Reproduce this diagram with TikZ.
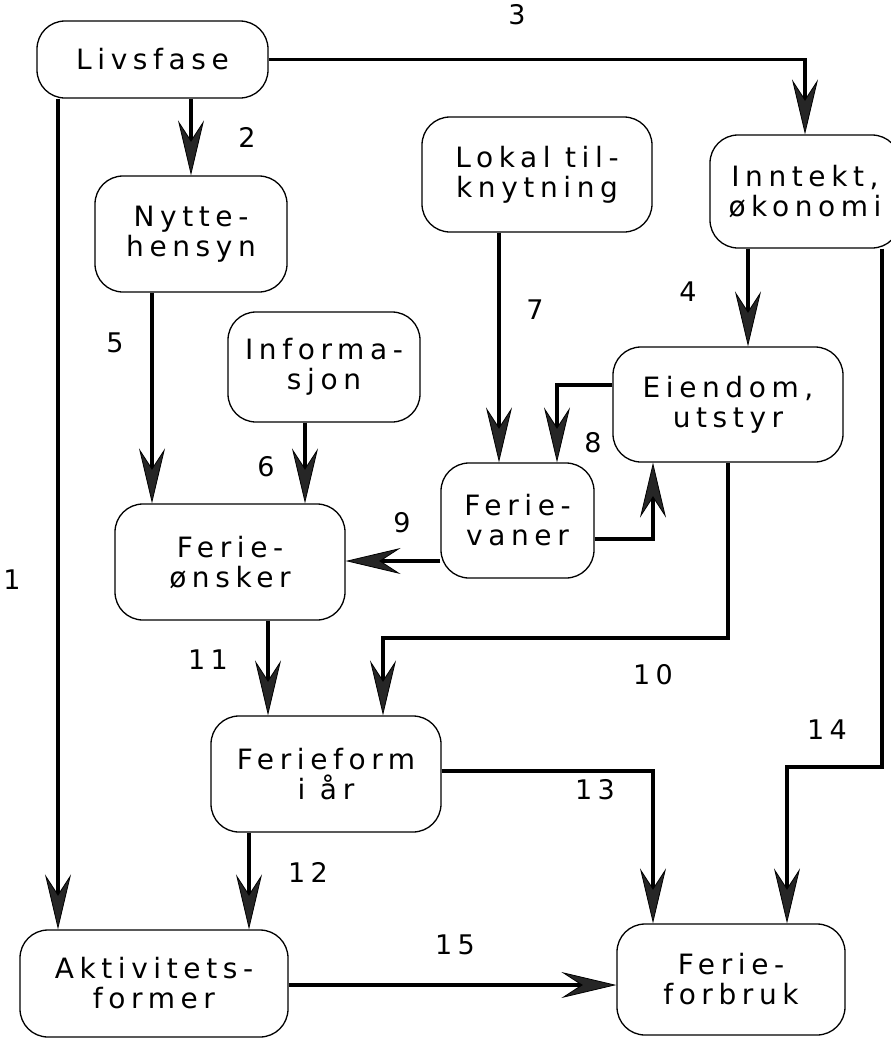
\documentclass[tikz,border=0pt]{standalone}
\usepackage{fontspec}
\newfontfamily\lab{DejaVu Sans}[LetterSpace=20]
\usetikzlibrary{arrows.meta,calc}
\begin{document}
\begin{tikzpicture}[x=1pt,y=-1pt,
  box/.style={draw, line width=1.3pt, rounded corners=28pt, align=center, inner sep=0pt,
              font=\lab\fontsize{28}{30}\selectfont},
  num/.style={font=\lab\fontsize{27}{30}\selectfont, inner sep=0pt},
  con/.style={line width=3.5pt,
              -{Stealth[length=55pt,width=26pt,inset=20pt,line width=0.8pt,fill=black!85,color=black]}}]
\useasboundingbox (0,0) rectangle (891,1042);
\fill[white] (0,0) rectangle (891,1042);
\clip (0,0) rectangle (891,1042);

% boxes
\node[box, minimum width=231pt, minimum height=77pt]  (liv) at (152.5,59.5) {Livsfase};
\node[box, minimum width=192pt, minimum height=116pt] (nyt) at (191,234)    {Nytte-\\hensyn};
\node[box, minimum width=230pt, minimum height=115pt] (lok) at (537,174.5)  {Lokal til-\\knytning};
\node[box, minimum width=190pt, minimum height=113pt] (inn) at (805,191.5)  {Inntekt,\\økonomi};
\node[box, minimum width=192pt, minimum height=110pt] (inf) at (324,367)    {Informa-\\sjon};
\node[box, minimum width=230pt, minimum height=115pt] (eie) at (728,404.5)  {Eiendom,\\utstyr};
\node[box, minimum width=153pt, minimum height=115pt] (fv)  at (517.5,520.5){Ferie-\\vaner};
\node[box, minimum width=230pt, minimum height=116pt] (fon) at (230,562)    {Ferie-\\ønsker};
\node[box, minimum width=230pt, minimum height=116pt] (ffo) at (326,774)    {Ferieform\\i år};
\node[box, minimum width=268pt, minimum height=107pt] (akt) at (154,983.5)  {Aktivitets-\\former};
\node[box, minimum width=228pt, minimum height=111pt] (ffb) at (731,979.5)  {Ferie-\\forbruk};

% helper bend points
\coordinate (c10) at (383,638);
\coordinate (c14) at (787,767);

% connectors
\draw[con] ([xshift=-94.5pt]liv.south) -- ([xshift=-94.5pt]liv.south |- akt.north);
\draw[con] ([xshift=38.5pt]liv.south) -- ([xshift=38.5pt]liv.south |- nyt.north);
\draw[con] (liv.east) -| (inn.north);
\draw[con] ([xshift=-57pt]inn.south) -- ([xshift=-57pt]inn.south |- eie.north);
\draw[con] ([xshift=-39pt]nyt.south) -- ([xshift=-39pt]nyt.south |- fon.north);
\draw[con] ([xshift=-19pt]inf.south) -- ([xshift=-19pt]inf.south |- fon.north);
\draw[con] ([xshift=-38pt]lok.south) -- ([xshift=-38pt]lok.south |- fv.north);
\draw[con] ([yshift=19.5pt]eie.west) -| ([xshift=39.5pt]fv.north);
\draw[con] ([yshift=-18.5pt]fv.east) -| ([xshift=-75pt]eie.south);
\draw[con] ([yshift=-40.5pt]fv.west) -- ([yshift=-40.5pt]fv.west -| fon.east);
\draw[con] (eie.south) |- (c10) -- (c10 |- ffo.north);
\draw[con] ([xshift=38pt]fon.south) -- ([xshift=38pt]fon.south |- ffo.north);
\draw[con] ([xshift=-77pt]ffo.south) -- ([xshift=-77pt]ffo.south |- akt.north);
\draw[con] ([yshift=3pt]ffo.east) -| ([xshift=-78pt]ffb.north);
\draw[con] ([xshift=77pt]inn.south) |- (c14) -- (c14 |- ffb.north);
\draw[con] ([yshift=-1.5pt]akt.east) -- ([yshift=-1.5pt]akt.east -| ffb.west);

% labels
\node[num] (n1)  at (12,580)  {1};
\node[num] (n2)  at (247,137) {2};
\node[num] (n3)  at (517,15)  {3};
\node[num] (n4)  at (688,292) {4};
\node[num] (n5)  at (115,343) {5};
\node[num] (n6)  at (266,467) {6};
\node[num] (n7)  at (535,310) {7};
\node[num] (n8)  at (593,443) {8};
\node[num] (n9)  at (402,523) {9};
\node[num] (n10) at (653,675) {10};
\node[num] (n11) at (208,660) {11};
\node[num] (n12) at (308,872) {12};
\node[num] (n13) at (595,790) {13};
\node[num] (n14) at (827,730) {14};
\node[num] (n15) at (455,945) {15};
\end{tikzpicture}
\end{document}
